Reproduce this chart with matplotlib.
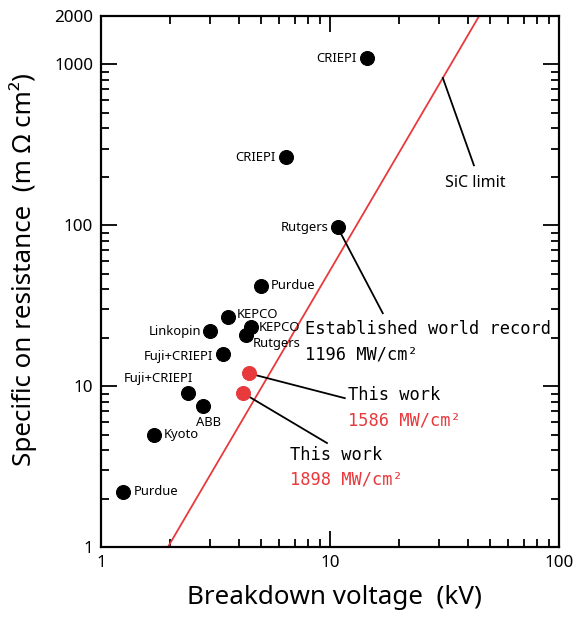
import matplotlib
matplotlib.use('Agg')
import matplotlib.pyplot as plt
from matplotlib.ticker import FixedLocator, FixedFormatter, LogLocator, NullFormatter

# Reported devices: breakdown voltage (kV) vs specific on resistance (mOhm cm2)
device_names = ['CRIEPI', 'CRIEPI', 'Rutgers', 'Purdue', 'KEPCO', 'Linkopin', 'KEPCO',
                'Rutgers', 'Fuji+CRIEPI', 'Fuji+CRIEPI', 'ABB', 'Kyoto', 'Purdue']
device_kv = [14.5, 6.4, 10.8, 5.0, 3.6, 3.0, 4.5, 4.3, 3.4, 2.4, 2.8, 1.7, 1.25]
device_ron = [1090, 264, 97, 42, 27, 22, 23.3, 20.7, 15.8, 9.1, 7.5, 5.0, 2.2]

# This work
this_kv = [4.43, 4.17]
this_ron = [12.0, 9.05]
this_fom = ['1586 MW/cm²', '1898 MW/cm²']
record_fom = '1196 MW/cm²'

# SiC unipolar limit
sic_kv = [1.96, 44.8]
sic_ron = [1, 2000]

x_ticks = [1, 10, 100]
y_ticks = [1, 10, 100, 1000, 2000]

RED = '#e8393c'
SANS = 'Noto Sans'
MONO = 'DejaVu Sans Mono'

# label offsets (points) and alignment for each device
label_pos = [(-10, 0, 'right', 'center'), (-10, 0, 'right', 'center'),
             (-9, 0, 'right', 'center'), (10, 0, 'left', 'center'),
             (8, 2, 'left', 'center'), (-9, 0, 'right', 'center'),
             (8, 0, 'left', 'center'), (7, -8, 'left', 'center'),
             (-10, -2, 'right', 'center'), (-30, 14, 'center', 'center'),
             (5, -16, 'center', 'center'), (10, 0, 'left', 'center'),
             (11, 0, 'left', 'center')]

fig = plt.figure(figsize=(576 / 72, 619 / 72), dpi=72)
ax = fig.add_axes([101 / 576, 1 - 547 / 619, 458 / 576, 531 / 619])
ax.set_xscale('log')
ax.set_yscale('log')
ax.set_xlim(1, 100)
ax.set_ylim(1, 2000)

# SiC limit line
ax.plot(sic_kv, sic_ron, color=RED, lw=1.8, zorder=2)

# leader lines
ax.plot([31.1, 42.5], [824, 236], color='black', lw=1.8, zorder=2)
ax.plot([device_kv[2], 17.0], [device_ron[2], 28.4], color='black', lw=1.8, zorder=2)
ax.plot([this_kv[0], 11.6], [this_ron[0], 8.42], color='black', lw=1.8, zorder=2)
ax.plot([this_kv[1], 9.7], [this_ron[1], 4.43], color='black', lw=1.8, zorder=2)

ax.plot(device_kv, device_ron, 'o', color='black', ms=14, zorder=3, clip_on=False)
ax.plot(this_kv, this_ron, 'o', color=RED, ms=14, zorder=3)

for name, v, r, (dx, dy, ha, va) in zip(device_names, device_kv, device_ron, label_pos):
    ax.annotate(name, (v, r), xytext=(dx, dy), textcoords='offset points',
                ha=ha, va=va, fontsize=13, family=SANS)

ax.text(43.0, 182, 'SiC limit', ha='center', va='center', fontsize=16, family=SANS)
ax.text(7.78, 22.6, 'Established world record', ha='left', va='center', fontsize=17, family=MONO)
ax.text(7.78, 15.8, record_fom, ha='left', va='center', fontsize=17, family=MONO)
ax.text(12.0, 8.79, 'This work', ha='left', va='center', fontsize=17, family=MONO)
ax.text(12.0, 6.15, this_fom[0], ha='left', va='center', fontsize=17, family=MONO, color=RED)
ax.text(6.69, 3.73, 'This work', ha='left', va='center', fontsize=17, family=MONO)
ax.text(6.69, 2.61, this_fom[1], ha='left', va='center', fontsize=17, family=MONO, color=RED)

# ticks
ax.xaxis.set_major_locator(FixedLocator(x_ticks))
ax.xaxis.set_major_formatter(FixedFormatter([str(t) for t in x_ticks]))
ax.xaxis.set_minor_locator(LogLocator(base=10, subs=range(2, 10)))
ax.xaxis.set_minor_formatter(NullFormatter())
ax.yaxis.set_major_locator(FixedLocator(y_ticks))
ax.yaxis.set_major_formatter(FixedFormatter([str(t) for t in y_ticks]))
ax.yaxis.set_minor_locator(LogLocator(base=10, subs=range(2, 10)))
ax.yaxis.set_minor_formatter(NullFormatter())
ax.tick_params(which='both', direction='in', top=True, right=True, width=1.8)
ax.tick_params(which='major', length=16, pad=8, labelsize=17)
ax.tick_params(which='minor', length=8)
for lab in ax.get_xticklabels() + ax.get_yticklabels():
    lab.set_family(SANS)
for s in ax.spines.values():
    s.set_linewidth(2.2)

fig.text(334 / 576, 1 - 598 / 619, 'Breakdown voltage  (kV)', ha='center', va='center',
         fontsize=26, family=SANS)
fig.text(23 / 576, 1 - 270 / 619, 'Specific on resistance  (m Ω cm²)', ha='center', va='center',
         rotation=90, fontsize=26, family=SANS)

fig.savefig('out.png', dpi=72)
